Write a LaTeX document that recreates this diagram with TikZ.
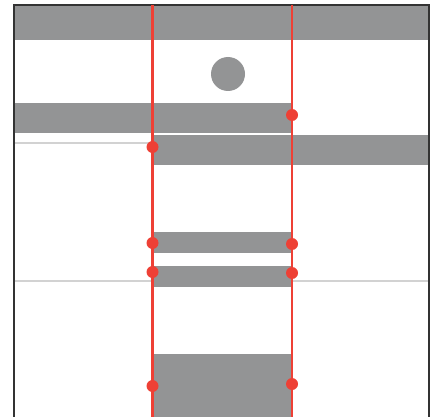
\documentclass[tikz,border=0pt]{standalone}
\definecolor{barg}{HTML}{939495}
\definecolor{redl}{HTML}{EE4035}
\definecolor{frm}{HTML}{333333}
\definecolor{thin}{HTML}{D2D2D2}
\tikzset{
  bar/.style={fill=barg, draw=none},
  rline/.style={draw=redl, line width=2.4pt},
  dot/.style={fill=redl, draw=none},
  hair/.style={draw=thin, line width=1.2pt},
}
\begin{document}
\begin{tikzpicture}[x=1pt,y=-1pt]
\useasboundingbox (0,0) rectangle (439,417);
% thin lines
\draw[hair] (14,143) -- (152,143);
\draw[hair] (14,281) -- (429,281);
% bars
\fill[bar] (14,5) rectangle (429,40);
\fill[bar] (228,74) circle (17);
\fill[bar] (14,103) rectangle (292,133);
\fill[bar] (153,135) rectangle (429,165);
\fill[bar] (153,232) rectangle (292,253);
\fill[bar] (153,266) rectangle (292,287);
\fill[bar] (153,354) rectangle (292,417);
% frame
\draw[frm, line width=2.5pt] (14,417) -- (14,5) -- (429,5) -- (429,417);
% red lines
\coordinate (l1t) at (152.5,5); \coordinate (l1b) at (152.5,417);
\coordinate (l2t) at (292,5);   \coordinate (l2b) at (292,417);
\draw[rline] (l1t) -- (l1b);
\draw[rline] (l2t) -- (l2b);
% dots
\foreach \x/\y in {292/115, 152.5/147, 152.5/243, 292/244, 152.5/272, 292/273, 152.5/386, 292/384}
  \fill[dot] (\x,\y) circle (6);
\end{tikzpicture}
\end{document}
